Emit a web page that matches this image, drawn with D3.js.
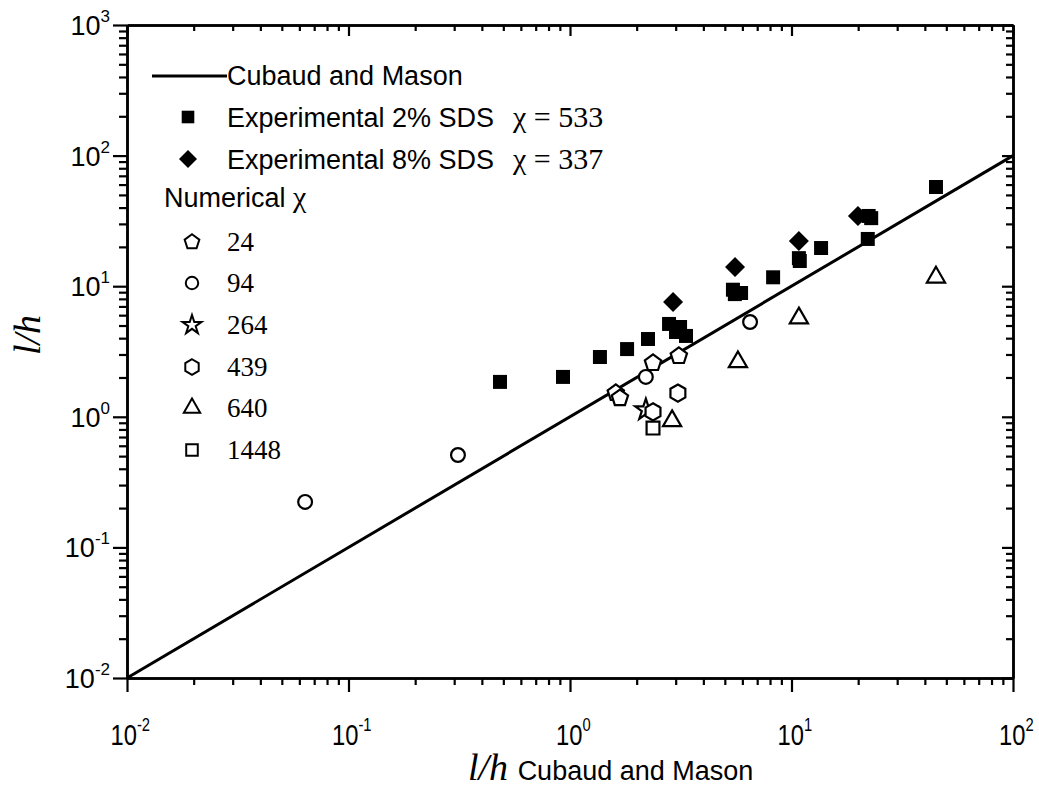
<!DOCTYPE html>
<html>
<head>
<meta charset="utf-8">
<script src="https://cdn.jsdelivr.net/npm/d3@7"></script>
<style>
  html, body { margin: 0; padding: 0; background: #fff; }
  svg { display: block; }
</style>
</head>
<body>
<svg id="chart" width="1039" height="787"></svg>
<script>
// ---- data ----
const xExponents = [-2, -1, 0, 1, 2];
const yExponents = [-2, -1, 0, 1, 2, 3];

// Cubaud and Mason correlation: l/h (measured) = l/h (model)
const cubaudLine = [[0.01, 0.01], [100, 100]];

// Experimental 2% SDS, chi = 533
const exp2X = [0.483, 0.93, 1.365, 1.81, 2.25, 2.80, 3.01, 3.14, 3.34, 5.44, 5.55, 5.92, 8.26, 10.8, 10.9, 13.6, 22.1, 22.3, 22.9, 44.9];
const exp2Y = [1.85, 2.02, 2.87, 3.30, 3.94, 5.14, 4.46, 4.87, 4.16, 9.40, 8.70, 8.87, 11.7, 16.4, 15.6, 19.6, 23.0, 34.5, 33.2, 57.5];

// Experimental 8% SDS, chi = 337
const exp8X = [2.92, 5.56, 10.8, 19.95];
const exp8Y = [7.57, 14.0, 22.2, 34.5];

// Numerical results, one list per chi
const num24X = [3.10, 2.37, 1.61, 1.68];
const num24Y = [2.92, 2.58, 1.52, 1.39];
const num94X = [0.0637, 0.312, 2.20, 6.50];
const num94Y = [0.223, 0.51, 2.02, 5.32];
const num264X = [2.20];
const num264Y = [1.13];
const num439X = [2.37, 3.07];
const num439Y = [1.09, 1.52];
const num640X = [2.89, 5.73, 10.8, 44.9];
const num640Y = [0.93, 2.63, 5.70, 11.7];
const num1448X = [2.37];
const num1448Y = [0.82];

const numericalLabels = ["24", "94", "264", "439", "640", "1448"];

// ---- layout ----
const svg = d3.select("#chart");
const plotLeft = 127, plotRight = 1013, plotTop = 25, plotBottom = 678;

const x = d3.scaleLog().domain([1e-2, 1e2]).range([plotLeft, plotRight]);
const y = d3.scaleLog().domain([1e-2, 1e3]).range([plotBottom, plotTop]);

function majors(exps) { return exps.map(e => Math.pow(10, e)); }
function minors(exps) {
  const out = [];
  for (let i = 0; i < exps.length - 1; i++) {
    for (let k = 2; k <= 9; k++) out.push(k * Math.pow(10, exps[i]));
  }
  return out;
}
const xMaj = majors(xExponents), xMin = minors(xExponents);
const yMaj = majors(yExponents), yMin = minors(yExponents);

function styleAxis(g) {
  g.select(".domain").attr("stroke", "#000").attr("stroke-width", 2.5);
  g.selectAll(".tick line").attr("stroke", "#000").attr("stroke-width", 2.2);
  g.selectAll(".tick text").remove();
}

// bottom: outward ticks
svg.append("g").attr("transform", `translate(0,${plotBottom})`)
  .call(d3.axisBottom(x).tickValues(xMin).tickSize(7).tickSizeOuter(0)).call(styleAxis);
svg.append("g").attr("transform", `translate(0,${plotBottom})`)
  .call(d3.axisBottom(x).tickValues(xMaj).tickSize(14).tickSizeOuter(0)).call(styleAxis);
// left: outward ticks
svg.append("g").attr("transform", `translate(${plotLeft},0)`)
  .call(d3.axisLeft(y).tickValues(yMin).tickSize(8).tickSizeOuter(0)).call(styleAxis);
svg.append("g").attr("transform", `translate(${plotLeft},0)`)
  .call(d3.axisLeft(y).tickValues(yMaj).tickSize(14).tickSizeOuter(0)).call(styleAxis);
// top: inward ticks
svg.append("g").attr("transform", `translate(0,${plotTop})`)
  .call(d3.axisTop(x).tickValues(xMin).tickSize(-6).tickSizeOuter(0)).call(styleAxis);
svg.append("g").attr("transform", `translate(0,${plotTop})`)
  .call(d3.axisTop(x).tickValues(xMaj).tickSize(-11).tickSizeOuter(0)).call(styleAxis);
// right: inward ticks
svg.append("g").attr("transform", `translate(${plotRight},0)`)
  .call(d3.axisRight(y).tickValues(yMin).tickSize(-7).tickSizeOuter(0)).call(styleAxis);
svg.append("g").attr("transform", `translate(${plotRight},0)`)
  .call(d3.axisRight(y).tickValues(yMaj).tickSize(-11).tickSizeOuter(0)).call(styleAxis);

// tick labels with superscript exponents
const tickFont = "'Liberation Sans', Arial, sans-serif";
xExponents.forEach(e => {
  const cx = x(Math.pow(10, e));
  const t = svg.append("text")
    .attr("x", cx + 4)
    .attr("y", plotBottom + 67)
    .attr("text-anchor", "middle")
    .attr("font-family", tickFont)
    .attr("font-size", 29)
    .attr("transform", `translate(${cx},0) scale(0.82,1) translate(${-cx},0)`);
  t.append("tspan").text("10");
  t.append("tspan").attr("font-size", 18).attr("dy", -14).text(e);
});
yExponents.forEach(e => {
  const t = svg.append("text")
    .attr("x", plotLeft - 17)
    .attr("y", y(Math.pow(10, e)) + 10)
    .attr("text-anchor", "end")
    .attr("font-family", tickFont)
    .attr("font-size", 27);
  t.append("tspan").text("10");
  t.append("tspan").attr("font-size", 17).attr("dy", -13).text(e);
});

// axis titles
const serif = "'Liberation Serif', 'Times New Roman', serif";
svg.append("text")
  .attr("transform", `translate(40,335) rotate(-90)`)
  .attr("text-anchor", "middle")
  .attr("font-family", serif)
  .attr("font-style", "italic")
  .attr("font-size", 38)
  .text("l/h");

const xt = svg.append("text")
  .attr("x", 468).attr("y", 780);
xt.append("tspan").attr("font-family", serif).attr("font-style", "italic").attr("font-size", 38).text("l/h ");
xt.append("tspan").attr("font-family", tickFont).attr("font-size", 27).text("Cubaud and Mason");

// ---- plot content ----
const plot = svg.append("g");
plot.append("path")
  .datum(cubaudLine)
  .attr("d", d3.line().x(d => x(d[0])).y(d => y(d[1])))
  .attr("fill", "none")
  .attr("stroke", "#000")
  .attr("stroke-width", 3);

// marker shapes
function polygon(n, r, rot) {
  const p = d3.path();
  for (let i = 0; i < n; i++) {
    const a = rot + i * 2 * Math.PI / n;
    const px = r * Math.sin(a), py = -r * Math.cos(a);
    if (i === 0) p.moveTo(px, py); else p.lineTo(px, py);
  }
  p.closePath();
  return p.toString();
}
const shapes = {
  fsquare: { d: d3.symbol(d3.symbolSquare, 196)(), fill: "#000", stroke: "none", rot: 0 },
  fdiamond: { d: d3.symbol(d3.symbolSquare, 200)(), fill: "#000", stroke: "none", rot: 45 },
  pentagon: { d: polygon(5, 8.6, 0), fill: "#fff", stroke: "#000", rot: 0 },
  circle: { d: d3.symbol(d3.symbolCircle, 150)(), fill: "#fff", stroke: "#000", rot: 0 },
  star: { d: d3.symbol(d3.symbolStar, 140)(), fill: "#fff", stroke: "#000", rot: 0 },
  hexagon: { d: polygon(6, 8.6, 0), fill: "#fff", stroke: "#000", rot: 0 },
  triangle: { d: polygon(3, 10.5, 0), fill: "#fff", stroke: "#000", rot: 0 },
  osquare: { d: d3.symbol(d3.symbolSquare, 165)(), fill: "#fff", stroke: "#000", rot: 0 }
};

function drawSeries(xs, ys, shapeKey) {
  const s = shapes[shapeKey];
  plot.append("g").selectAll("path")
    .data(xs.map((v, i) => [v, ys[i]]))
    .join("path")
    .attr("d", s.d)
    .attr("transform", d => `translate(${x(d[0])},${y(d[1])}) rotate(${s.rot})`)
    .attr("fill", s.fill)
    .attr("stroke", s.stroke)
    .attr("stroke-width", 2.2)
    .attr("stroke-linejoin", "miter");
}

drawSeries(num94X, num94Y, "circle");
drawSeries(num24X, num24Y, "pentagon");
drawSeries(num264X, num264Y, "star");
drawSeries(num439X, num439Y, "hexagon");
drawSeries(num640X, num640Y, "triangle");
drawSeries(num1448X, num1448Y, "osquare");
drawSeries(exp2X, exp2Y, "fsquare");
drawSeries(exp8X, exp8Y, "fdiamond");

// ---- legend ----
const legend = svg.append("g");
legend.append("line")
  .attr("x1", 152).attr("x2", 227).attr("y1", 76).attr("y2", 76)
  .attr("stroke", "#000").attr("stroke-width", 3);
legend.append("text").attr("x", 227).attr("y", 85)
  .attr("font-family", tickFont).attr("font-size", 27).text("Cubaud and Mason");

function legendMark(cx, cy, shapeKey, scale) {
  const s = shapes[shapeKey];
  legend.append("path")
    .attr("d", s.d)
    .attr("transform", `translate(${cx},${cy}) rotate(${s.rot}) scale(${scale || 1})`)
    .attr("fill", s.fill).attr("stroke", s.stroke).attr("stroke-width", 2.2);
}

legendMark(188, 117, "fsquare", 0.9);
legend.append("text").attr("x", 227).attr("y", 127)
  .attr("font-family", tickFont).attr("font-size", 27).text("Experimental 2% SDS");
legend.append("text").attr("x", 513).attr("y", 127)
  .attr("font-family", serif).attr("font-size", 30).text("χ = 533");

legendMark(188, 159, "fdiamond", 0.9);
legend.append("text").attr("x", 227).attr("y", 169)
  .attr("font-family", tickFont).attr("font-size", 27).text("Experimental 8% SDS");
legend.append("text").attr("x", 513).attr("y", 169)
  .attr("font-family", serif).attr("font-size", 30).text("χ = 337");

const nt = legend.append("text").attr("x", 164).attr("y", 207);
nt.append("tspan").attr("font-family", tickFont).attr("font-size", 27).text("Numerical ");
nt.append("tspan").attr("font-family", serif).attr("font-size", 30).text("χ");

const numShapes = ["pentagon", "circle", "star", "hexagon", "triangle", "osquare"];
const rowY = [242, 283, 325, 367, 408, 450];
numShapes.forEach((k, i) => {
  legendMark(192, rowY[i], k, 0.9);
  legend.append("text").attr("x", 227).attr("y", rowY[i] + 9)
    .attr("font-family", serif).attr("font-size", 27).text(numericalLabels[i]);
});
</script>
</body>
</html>
